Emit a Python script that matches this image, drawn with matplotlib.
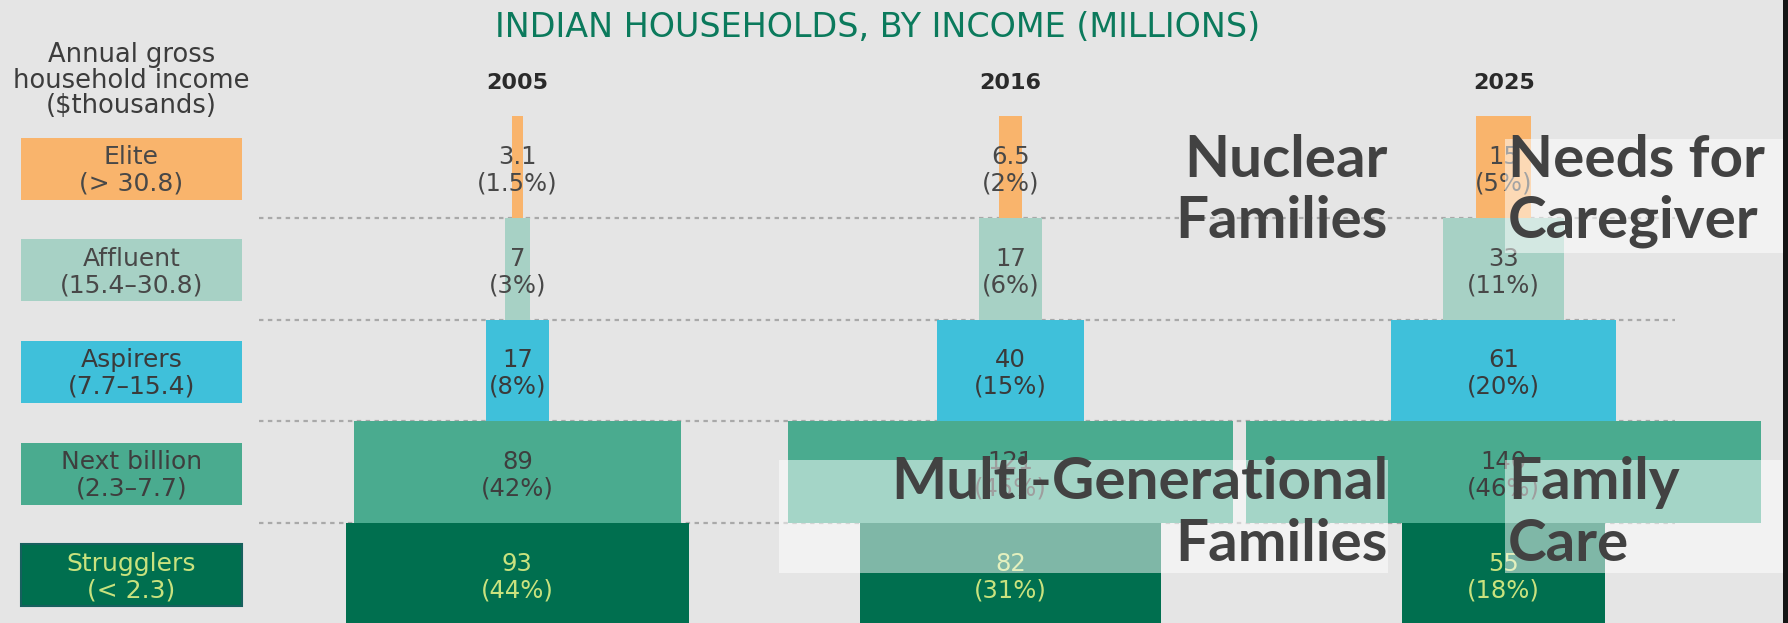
import matplotlib
matplotlib.use('Agg')
import matplotlib.pyplot as plt
from matplotlib.patches import Rectangle

# data (millions of households)
years = ['2005', '2016', '2025']
segments = ['Elite', 'Affluent', 'Aspirers', 'Next billion', 'Strugglers']
income_ranges = ['(> 30.8)', '(15.4–30.8)', '(7.7–15.4)', '(2.3–7.7)', '(< 2.3)']
households_2005 = [3.1, 7, 17, 89, 93]
households_2016 = [6.5, 17, 40, 121, 82]
households_2025 = [15, 33, 61, 140, 55]
share_2005 = ['1.5%', '3%', '8%', '42%', '44%']
share_2016 = ['2%', '6%', '15%', '45%', '31%']
share_2025 = ['5%', '11%', '20%', '46%', '18%']

seg_colors = ['#f9b46c', '#a7d1c5', '#3fc0da', '#4aab8f', '#006f4f']
text_colors = ['#484848', '#484848', '#3a3a3a', '#3e3e3e', '#c9e27e']

W, H = 1788, 623
BG = '#e5e5e5'
px_per_m = 3.68          # horizontal scale of the pyramids
row_top, row_h = 116.3, 101.7
first_center, group_gap = 140.6, 134.0   # in millions


def fx(px):
    return px / W


def fy(py):
    return 1 - py / H


fig = plt.figure(figsize=(W / 100, H / 100), dpi=100, facecolor=BG)
ax = fig.add_axes([0, 0, 1, 1])
ax.set_facecolor(BG)
ax.axis('off')
ax.set_xlim(0, W / px_per_m)
ax.set_ylim((H - row_top) / row_h, -row_top / row_h)

# dotted separators between income bands
for i in range(1, len(segments)):
    ax.axhline(i, xmin=fx(259), xmax=fx(1675), color='#a9a9a9', lw=1.6,
               ls=(0, (2, 2)), zorder=1)

series = [(households_2005, share_2005), (households_2016, share_2016),
          (households_2025, share_2025)]
ytr = ax.get_yaxis_transform()

for g, (year, (vals, shares)) in enumerate(zip(years, series)):
    c = first_center + g * group_gap
    rows = [i + 0.5 for i in range(len(vals))]
    ax.barh(rows, vals, left=[c - v / 2 for v in vals], height=1.0,
            color=seg_colors, zorder=2)
    for i, (v, s) in enumerate(zip(vals, shares)):
        ax.text(c, i + 0.47, f'{v:g}', ha='center', va='baseline',
                fontsize=17.5, color=text_colors[i], zorder=3)
        ax.text(c, i + 0.73, f'({s})', ha='center', va='baseline',
                fontsize=17.5, color=text_colors[i], zorder=3)
    fig.text(c * px_per_m / W, fy(89), year, ha='center', va='baseline',
             fontsize=16, fontweight='bold', color='#2a2a2a')

# left legend boxes
for i, (name, rng) in enumerate(zip(segments, income_ranges)):
    ec = '#17605e' if i == 4 else 'none'
    ax.add_patch(Rectangle((fx(21), i + 0.21), fx(242) - fx(21), 0.61,
                           transform=ytr, facecolor=seg_colors[i],
                           edgecolor=ec, lw=1.5, zorder=2))
    ax.text(fx(131.5), i + 0.47, name, transform=ytr, ha='center',
            va='baseline', fontsize=18, color=text_colors[i], zorder=3)
    ax.text(fx(131.5), i + 0.73, rng, transform=ytr, ha='center',
            va='baseline', fontsize=18, color=text_colors[i], zorder=3)

for line, yb in zip(['Annual gross', 'household income', '($thousands)'],
                    [62, 88, 113]):
    fig.text(fx(131.5), fy(yb), line, ha='center', va='baseline',
             fontsize=18.5, color='#3c3c3c')

fig.text(fx(878), fy(37), 'INDIAN HOUSEHOLDS, BY INCOME (MILLIONS)',
         ha='center', va='baseline', fontsize=24, color='#0b7a5c')

# overlaid annotation boxes
for x0, x1, y0, y1 in [(1505, 1783, 139, 253), (779, 1388, 460, 573),
                       (1505, 1783, 460, 573)]:
    fig.add_artist(Rectangle((fx(x0), fy(y1)), (x1 - x0) / W, (y1 - y0) / H,
                             transform=fig.transFigure, facecolor='white',
                             edgecolor='none', alpha=0.5, zorder=5))

notes = [
    ('Nuclear', 1388, 177, 'right'), ('Families', 1388, 238, 'right'),
    ('Needs for', 1508, 177, 'left'), ('Caregiver', 1508, 238, 'left'),
    ('Multi-Generational', 1388, 499, 'right'), ('Families', 1388, 561, 'right'),
    ('Family', 1508, 499, 'left'), ('Care', 1508, 561, 'left'),
]
for txt, xp, yb, ha in notes:
    fig.text(fx(xp), fy(yb), txt, ha=ha, va='baseline', fontsize=42,
             fontweight='bold', family=['Lato', 'DejaVu Sans'],
             color='#424242', zorder=6)

# dark strip at the right edge of the screenshot
fig.add_artist(Rectangle((fx(1783), 0), 1 - fx(1783), 1,
                         transform=fig.transFigure, facecolor='#151515',
                         edgecolor='none', zorder=7))

fig.savefig('out.png', dpi=100, facecolor=BG)
